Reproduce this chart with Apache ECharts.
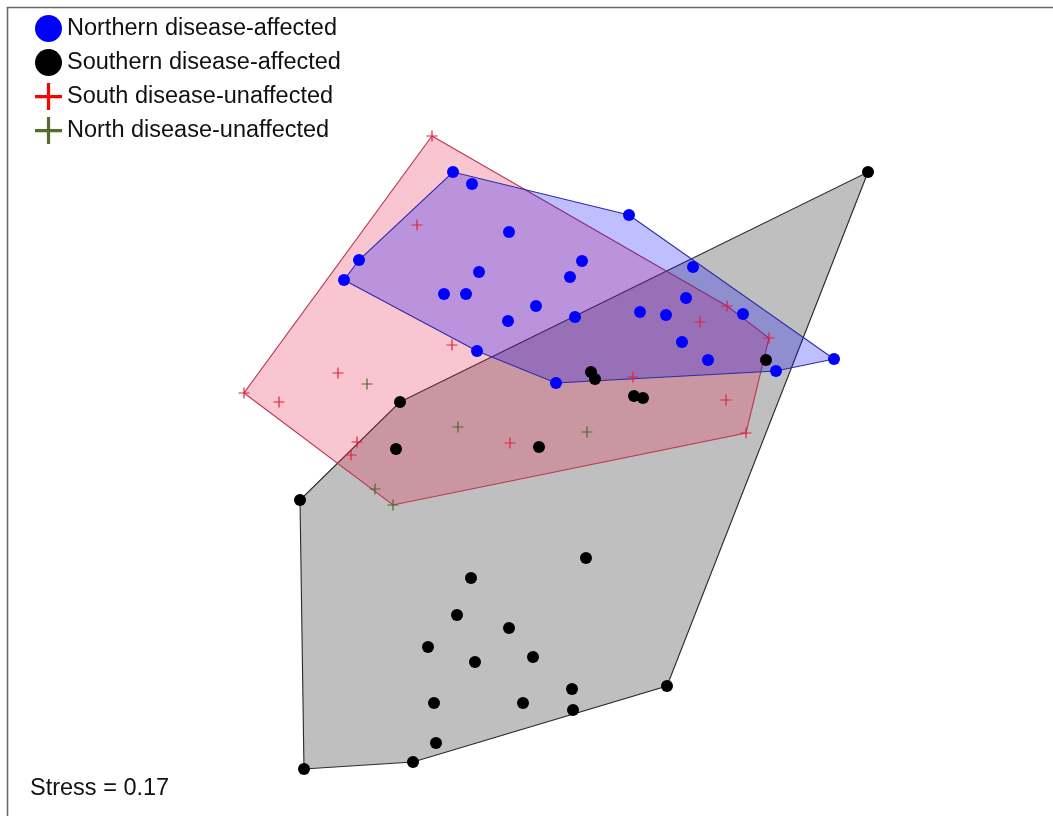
<!DOCTYPE html>
<html>
<head>
<meta charset="utf-8">
<script src="https://cdn.jsdelivr.net/npm/echarts@6/dist/echarts.min.js"></script>
<style>
  html, body { margin: 0; padding: 0; background: #fff; }
  #chart { width: 1053px; height: 816px; }
</style>
</head>
<body>
<div id="chart"></div>
<script>
// NMDS site scores [NMDS1, NMDS2] per group
const northAffected = [
  [-0.2425, 0.695], [-0.195, 0.665], [-0.1025, 0.545], [-0.4775, 0.475], [-0.515, 0.425],
  [-0.1775, 0.445], [-0.265, 0.39], [-0.21, 0.39], [-0.105, 0.3225], [0.1975, 0.5875],
  [0.08, 0.4725], [0.05, 0.4325], [0.3575, 0.4575], [-0.035, 0.36], [0.0625, 0.3325],
  [0.225, 0.345], [0.29, 0.3375], [0.34, 0.38], [0.4825, 0.34], [0.33, 0.27],
  [0.395, 0.225], [0.71, 0.2275], [0.565, 0.1975], [0.015, 0.1675], [-0.1825, 0.2475]
];
const southAffected = [
  [0.1025, 0.195], [0.1125, 0.1775], [0.54, 0.225], [0.21, 0.135], [0.2325, 0.13],
  [-0.375, 0.12], [-0.385, 0.0025], [-0.0275, 0.0075], [-0.625, -0.125], [0.795, 0.695],
  [0.09, -0.27], [-0.1975, -0.32], [-0.2325, -0.4125], [-0.1025, -0.445], [-0.305, -0.4925],
  [-0.1875, -0.53], [-0.0425, -0.5175], [0.055, -0.5975], [0.2925, -0.59], [-0.29, -0.6325],
  [-0.0675, -0.6325], [0.0575, -0.65], [-0.285, -0.7325], [-0.3425, -0.78], [-0.615, -0.7975]
];
const southUnaffected = [
  [-0.295, 0.785], [-0.3325, 0.5625], [0.4425, 0.36], [0.375, 0.32], [0.5475, 0.28],
  [0.2075, 0.1825], [0.44, 0.125], [0.49, 0.0425], [-0.245, 0.2625], [-0.53, 0.1925],
  [-0.765, 0.1425], [-0.6775, 0.12], [-0.4825, 0.02], [-0.4975, -0.0125], [-0.1, 0.0175]
];
const northUnaffected = [
  [-0.4575, 0.165], [-0.23, 0.0575], [-0.4375, -0.0975], [-0.3925, -0.1375], [0.0925, 0.045]
];
const groupNames = [
  'Northern disease-affected',
  'Southern disease-affected',
  'South disease-unaffected',
  'North disease-unaffected'
];
const stressValue = 0.17;

// convex hull (monotone chain)
function convexHull(pts) {
  const p = pts.slice().sort((a, b) => a[0] - b[0] || a[1] - b[1]);
  const cross = (o, a, b) => (a[0] - o[0]) * (b[1] - o[1]) - (a[1] - o[1]) * (b[0] - o[0]);
  const lower = [];
  for (const q of p) {
    while (lower.length >= 2 && cross(lower[lower.length - 2], lower[lower.length - 1], q) <= 0) lower.pop();
    lower.push(q);
  }
  const upper = [];
  for (let i = p.length - 1; i >= 0; i--) {
    const q = p[i];
    while (upper.length >= 2 && cross(upper[upper.length - 2], upper[upper.length - 1], q) <= 0) upper.pop();
    upper.push(q);
  }
  upper.pop(); lower.pop();
  return lower.concat(upper);
}

function hullSeries(pts, fill, stroke, z) {
  const hull = convexHull(pts);
  return {
    type: 'custom',
    coordinateSystem: 'cartesian2d',
    silent: true,
    z: z,
    data: [hull[0]],
    renderItem: function (params, api) {
      return {
        type: 'polygon',
        shape: { points: hull.map(h => api.coord(h)) },
        style: { fill: fill, stroke: stroke, lineWidth: 1.1 }
      };
    }
  };
}

const plusThin = 'path://M0,8.9H20V11.1H0Z M8.9,0H11.1V20H8.9Z';
const plusThick = 'path://M0,12H27V15.2H0Z M11.9,0H15.1V27H11.9Z';

const chart = echarts.init(document.getElementById('chart'), null, { renderer: 'canvas' });

chart.setOption({
  animation: false,
  backgroundColor: '#ffffff',
  grid: { left: 0, right: 0, top: 0, bottom: 0 },
  xAxis: { type: 'value', min: -1.375, max: 1.2575, show: false },
  yAxis: { type: 'value', min: -0.915, max: 1.125, show: false },
  legend: {
    orient: 'vertical',
    left: 35,
    top: 15,
    padding: 0,
    itemWidth: 27,
    itemHeight: 27,
    itemGap: 7,
    selectedMode: false,
    textStyle: { fontFamily: 'Liberation Sans, Arial, sans-serif', fontSize: 23.5, color: '#111' },
    data: [
      { name: groupNames[0], icon: 'circle' },
      { name: groupNames[1], icon: 'circle' },
      { name: groupNames[2], icon: plusThick, itemStyle: { color: '#ff0000' } },
      { name: groupNames[3], icon: plusThick, itemStyle: { color: '#556b2f' } }
    ]
  },
  graphic: [
    { type: 'line', shape: { x1: 7, y1: 7.5, x2: 1053, y2: 7.5 }, style: { stroke: '#6a6a6a', lineWidth: 1.6 }, z: 100 },
    { type: 'line', shape: { x1: 7.5, y1: 7, x2: 7.5, y2: 816 }, style: { stroke: '#6a6a6a', lineWidth: 1.6 }, z: 100 },
    {
      type: 'text', left: 30, top: 777, z: 100,
      style: { text: 'Stress = ' + stressValue.toFixed(2), font: '23.5px "Liberation Sans", Arial, sans-serif', fill: '#111' }
    }
  ],
  series: [
    hullSeries(southAffected, 'rgba(0,0,0,0.25)', '#2a2a2a', 1),
    hullSeries(southUnaffected.concat(northUnaffected), 'rgba(232,40,80,0.27)', '#b83a52', 2),
    hullSeries(northAffected, 'rgba(0,0,255,0.25)', '#2c2ca6', 3),
    {
      name: groupNames[0], type: 'scatter', z: 10, symbol: 'circle', symbolSize: 12,
      itemStyle: { color: '#0000ff', opacity: 1 }, data: northAffected
    },
    {
      name: groupNames[1], type: 'scatter', z: 10, symbol: 'circle', symbolSize: 12,
      itemStyle: { color: '#000000', opacity: 1 }, data: southAffected
    },
    {
      name: groupNames[2], type: 'scatter', z: 10, symbol: plusThin, symbolSize: 11,
      itemStyle: { color: '#e3223f', opacity: 1 }, data: southUnaffected
    },
    {
      name: groupNames[3], type: 'scatter', z: 10, symbol: plusThin, symbolSize: 11,
      itemStyle: { color: '#4f6b2a', opacity: 1 }, data: northUnaffected
    }
  ]
});
</script>
</body>
</html>
